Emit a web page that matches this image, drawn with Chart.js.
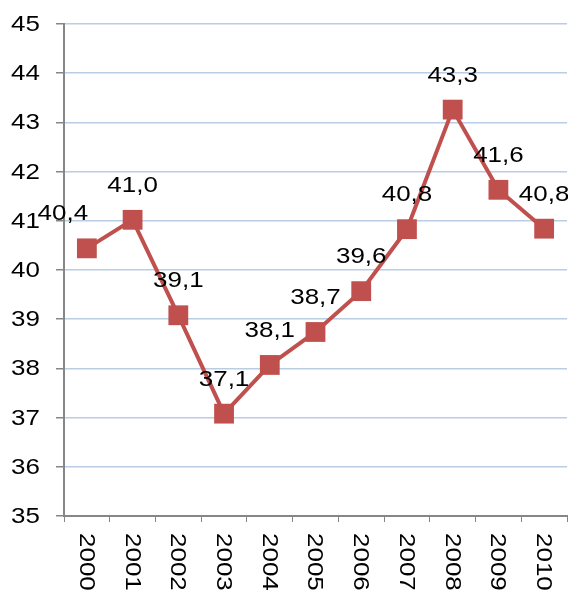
<!DOCTYPE html>
<html><head><meta charset="utf-8">
<script src="https://cdn.jsdelivr.net/npm/chart.js@4/dist/chart.umd.min.js"></script>
<style>html,body{margin:0;padding:0;background:#fff;overflow:hidden}#wrap{width:568px;height:590px}canvas{display:block}</style>
</head><body><div id="wrap"><canvas id="c" width="568" height="590"></canvas></div>
<script>
const years = ['2000','2001','2002','2003','2004','2005','2006','2007','2008','2009','2010'];
const values = [40.44, 41.02, 39.08, 37.08, 38.07, 38.74, 39.57, 40.83, 43.26, 41.63, 40.84];
const yTicks = [35, 36, 37, 38, 39, 40, 41, 42, 43, 44, 45];

const FONT = '"Liberation Sans", Arial, sans-serif';
const FSIZE = 22;
const SX = 1.18;

function drawText(ctx, txt, x, y, align, rot) {
  ctx.save();
  ctx.translate(x, y);
  if (rot) ctx.rotate(rot);
  ctx.scale(SX, 1);
  ctx.font = FSIZE + 'px ' + FONT;
  ctx.fillStyle = '#000';
  ctx.textAlign = align;
  ctx.textBaseline = 'middle';
  ctx.fillText(txt, 0, 0);
  ctx.restore();
}

const labelPlugin = {
  id: 'labels',
  afterDatasetsDraw(chart) {
    const ctx = chart.ctx;
    const meta = chart.getDatasetMeta(0);
    meta.data.forEach((pt, i) => {
      const txt = values[i].toFixed(1).replace('.', ',');
      const dx = i === 0 ? -24 : 0;
      drawText(ctx, txt, pt.x + dx, pt.y - 34, 'center', 0);
    });
    const ys = chart.scales.y;
    yTicks.forEach(v => {
      drawText(ctx, String(v), 40, ys.getPixelForValue(v) + 1, 'right', 0);
    });
    const xs = chart.scales.x;
    years.forEach((y, i) => {
      drawText(ctx, y, xs.getPixelForValue(i) - 1, xs.top + 17, 'left', Math.PI / 2);
    });
  }
};

new Chart(document.getElementById('c'), {
  type: 'line',
  data: {
    labels: years,
    datasets: [{
      data: values,
      borderColor: '#C0504D',
      backgroundColor: '#C0504D',
      borderWidth: 4,
      pointStyle: 'rect',
      pointRadius: 14,
      pointBackgroundColor: '#C0504D',
      pointBorderColor: '#C0504D',
      pointBorderWidth: 0,
      tension: 0,
      clip: false
    }]
  },
  options: {
    responsive: false,
    animation: false,
    layout: { autoPadding: false, padding: { top: 24, right: 1, left: 0, bottom: 0 } },
    plugins: { legend: { display: false }, tooltip: { enabled: false } },
    scales: {
      x: {
        offset: true,
        grid: { display: true, drawOnChartArea: false, offset: true, tickLength: 6, color: '#868686', lineWidth: 1 },
        border: { color: '#868686', width: 2 },
        ticks: { display: false },
        afterFit(s) { s.height = 74; }
      },
      y: {
        min: 35, max: 45,
        afterBuildTicks(s) { s.ticks = yTicks.map(v => ({ value: v })); },
        grid: { color: '#B9CDE5', lineWidth: 1.5, tickLength: 8, tickColor: '#868686' },
        border: { color: '#868686', width: 2 },
        ticks: { display: false },
        afterFit(s) { s.width = 64; }
      }
    }
  },
  plugins: [labelPlugin]
});
</script></body></html>
